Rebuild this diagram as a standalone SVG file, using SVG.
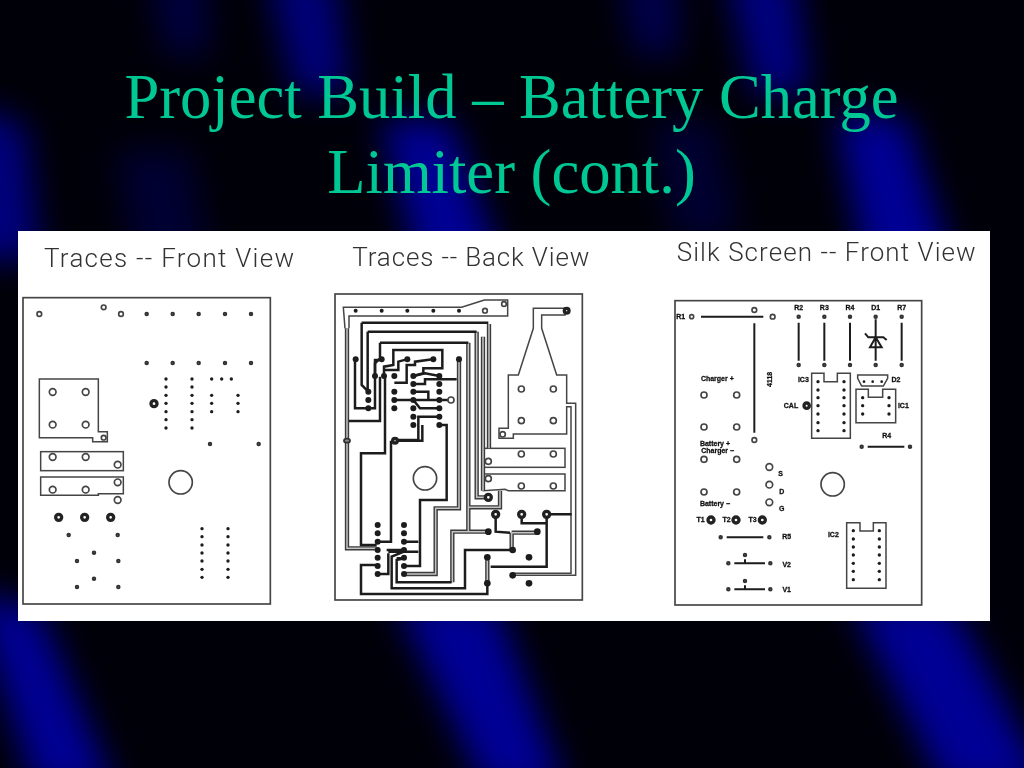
<svg xmlns="http://www.w3.org/2000/svg" width="1024" height="768" viewBox="0 0 1024 768">
<defs>
<filter id="b1" x="-80%" y="-60%" width="260%" height="220%"><feGaussianBlur stdDeviation="17"/></filter>
<filter id="soft" x="-2%" y="-2%" width="104%" height="104%"><feGaussianBlur stdDeviation="0.9"/></filter>
</defs>
<style>
.title{font-family:"Liberation Serif","Times New Roman",serif;font-size:62.6px;fill:#00c895;text-anchor:middle}
.cap{font-family:Roboto,"Liberation Sans",Arial,sans-serif;font-weight:300;font-size:78px;fill:#333}
.lb{font-family:"Liberation Sans",Arial,sans-serif;font-size:21px;font-weight:bold;fill:#111;stroke:#111;stroke-width:.8;text-anchor:middle}
.board{fill:none;stroke:#444;stroke-width:5}
.ol{fill:none;stroke:#444;stroke-width:4.5}
.ring{fill:#fff;stroke:#444;stroke-width:5}
.thick{fill:#fff;stroke:#222;stroke-width:10}
.pad{fill:#888;stroke:#333;stroke-width:5.5}
.dot{fill:#1c1c1c}
.t{fill:none;stroke:#1c1c1c;stroke-width:7.5;stroke-linejoin:miter}
.d{fill:none;stroke:#3a3a3a;stroke-width:13}
.di{fill:none;stroke:#c4c4c4;stroke-width:4.5}
.sl{fill:none;stroke:#1c1c1c;stroke-width:6}
.blue{fill:#000094;filter:url(#b1)}
</style>
<rect width="1024" height="768" fill="#000008"/>
<g id="background">
<polygon class="blue" points="150,-30 205,-30 210,55 165,55" opacity=".4"/>
<polygon class="blue" points="265,-30 335,-30 350,95 295,95" opacity=".8"/>
<polygon class="blue" points="620,-30 675,-30 680,55 635,55" opacity=".5"/>
<polygon class="blue" points="725,-30 795,-30 810,95 755,95" opacity=".85"/>
<polygon class="blue" points="-30,105 25,125 40,260 -30,260" opacity=".85"/>
<polygon class="blue" points="380,120 450,120 510,290 425,290"/>
<polygon class="blue" points="835,115 905,115 960,290 870,290"/>
<polygon class="blue" points="395,600 495,600 565,790 485,790"/>
<polygon class="blue" points="850,600 950,600 1050,790 945,790"/>
<polygon class="blue" points="-30,590 40,610 115,790 35,790"/>
<polygon class="blue" points="115,150 190,150 215,300 140,300" opacity=".3"/>
<polygon class="blue" points="650,120 715,120 740,240 675,240" opacity=".3"/>
</g>
<text class="title" x="511.5" y="118">Project Build – Battery Charge</text>
<text class="title" x="511.5" y="193">Limiter (cont.)</text>
<rect id="panel" x="18" y="231" width="972" height="390" fill="#fff"/>

<g id="front-view" transform="translate(18 230) scale(.33333)" filter="url(#soft)">
<text class="cap" x="78" y="112" textLength="750">Traces -- Front View</text>
<rect class="board" x="15" y="203" width="742" height="919"/>
<polygon class="ol" points="64,447 241,447 241,605 268,605 268,635 224,635 224,623 64,623"/>
<rect class="ol" x="68" y="665" width="248" height="57"/>
<polygon class="ol" points="68,741 316,741 316,791 241,791 241,796 68,796"/>
<g class="ring">
<circle cx="64" cy="252" r="7"/><circle cx="257" cy="232" r="7"/><circle cx="309" cy="252" r="7"/>
<circle cx="257" cy="623" r="7"/>
<circle cx="104" cy="486" r="10"/><circle cx="203" cy="486" r="10"/><circle cx="104" cy="584" r="10"/><circle cx="203" cy="584" r="10"/>
<circle cx="104" cy="681" r="10"/><circle cx="203" cy="681" r="10"/><circle cx="299" cy="704" r="10"/>
<circle cx="299" cy="757" r="10"/><circle cx="104" cy="779" r="10"/><circle cx="203" cy="779" r="10"/><circle cx="299" cy="810" r="10"/>
<circle cx="488" cy="757" r="35"/>
</g>
<g class="thick"><circle cx="408" cy="521" r="9"/><circle cx="122" cy="862" r="9"/><circle cx="200" cy="862" r="9"/><circle cx="278" cy="862" r="9"/></g>
<g class="pad">
<circle cx="386" cy="252" r="4"/><circle cx="464" cy="252" r="4"/><circle cx="542" cy="252" r="4"/><circle cx="621" cy="252" r="4"/><circle cx="699" cy="252" r="4"/>
<circle cx="386" cy="399" r="4"/><circle cx="464" cy="399" r="4"/><circle cx="542" cy="399" r="4"/><circle cx="621" cy="399" r="4"/><circle cx="699" cy="399" r="4"/>
<circle cx="576" cy="642" r="4"/><circle cx="722" cy="642" r="4"/>
<circle cx="152" cy="915" r="4"/><circle cx="299" cy="915" r="4"/><circle cx="228" cy="968" r="4"/><circle cx="177" cy="993" r="4"/><circle cx="301" cy="993" r="4"/><circle cx="228" cy="1046" r="4"/><circle cx="177" cy="1071" r="4"/><circle cx="301" cy="1071" r="4"/>
</g>
<g class="dot">
<circle cx="444" cy="447" r="5"/><circle cx="444" cy="471" r="5"/><circle cx="444" cy="496" r="5"/><circle cx="444" cy="520" r="5"/><circle cx="444" cy="545" r="5"/><circle cx="444" cy="569" r="5"/><circle cx="444" cy="594" r="5"/>
<circle cx="522" cy="447" r="5"/><circle cx="522" cy="471" r="5"/><circle cx="522" cy="496" r="5"/><circle cx="522" cy="520" r="5"/><circle cx="522" cy="545" r="5"/><circle cx="522" cy="569" r="5"/><circle cx="522" cy="594" r="5"/>
<circle cx="581" cy="447" r="5"/><circle cx="611" cy="447" r="5"/><circle cx="640" cy="447" r="5"/>
<circle cx="581" cy="496" r="5"/><circle cx="581" cy="520" r="5"/><circle cx="581" cy="545" r="5"/><circle cx="660" cy="496" r="5"/><circle cx="660" cy="520" r="5"/><circle cx="660" cy="545" r="5"/>
<circle cx="552" cy="896" r="5"/><circle cx="552" cy="920" r="5"/><circle cx="552" cy="945" r="5"/><circle cx="552" cy="969" r="5"/><circle cx="552" cy="993" r="5"/><circle cx="552" cy="1018" r="5"/><circle cx="552" cy="1042" r="5"/>
<circle cx="630" cy="896" r="5"/><circle cx="630" cy="920" r="5"/><circle cx="630" cy="945" r="5"/><circle cx="630" cy="969" r="5"/><circle cx="630" cy="993" r="5"/><circle cx="630" cy="1018" r="5"/><circle cx="630" cy="1042" r="5"/>
</g>
</g>

<g id="back-view" transform="translate(325 230) scale(.33333)" filter="url(#soft)">
<text class="cap" x="82" y="108" textLength="711">Traces -- Back View</text>
<rect class="board" x="30" y="192" width="742" height="918"/>
<path class="ol" d="M60 295L55 232H410L478 210H548V258H72V295"/>
<polygon class="ol" points="625,235 720,235 720,255 650,255 650,295 695,435 725,435 725,520 752,520 752,1036 563,1036 563,1030 738,1030 738,530 725,530 725,612 565,612 565,625 522,625 522,595 550,595 550,435 580,435 625,295"/>
<rect class="ol" x="475" y="655" width="245" height="57"/>
<polygon class="ol" points="475,732 720,732 720,782 550,782 540,778 475,782"/>
<g id="outlined-traces">
<path class="d" d="M492 282V655M455 305V802H490M474 320V782M430 338V832H525V782M430 832V905H382V1057M382 905H490M402 380V835H332V1032H237M66 295V955H155M487 982V1060M560 908H637M560 908V960"/>
<path class="di" d="M492 282V655M455 305V802H490M474 320V782M430 338V832H525V782M430 832V905H382V1057M382 905H490M402 380V835H332V1032H237M66 295V955H155M487 982V1060M560 908H637M560 908V960"/>
</g>
<g id="traces">
<path class="t" d="M110 278H490M110 278V465L130 485M128 305H455M128 305V485M165 338H430M165 338V385L150 400V435"/>
<path class="t" d="M90 388V535H130M130 535H150V390H167M177 438V410L205 405V360H352V415H295V430L265 438"/>
<path class="t" d="M180 420H220V395L245 388M208 458H245V405H270V395L323 388M265 462H300V448H395M300 448H343M265 438L300 430L343 438"/>
<path class="t" d="M208 510H378M265 485H310V510M265 510L285 535H343M292 560H280V630H213M280 560H343M343 585H365V810H285V1008H237"/>
<path class="t" d="M72 573H165V440M180 440V670H108V945H155M198 632V935H160M213 632H292V585"/>
<path class="t" d="M237 935H280M190 965H280M185 960H237M215 985H237L215 990V1057H380M563 960H420V1075H200V980L237 965"/>
<path class="t" d="M487 1060V1092H108V1005H158M158 1032H190V970M497 1010H665V853M590 853V880H665M512 853V905L555 908M665 853H740"/>
</g>
<circle class="ring" cx="300" cy="745" r="35"/>
<g class="ring">
<circle cx="589" cy="477" r="9"/><circle cx="685" cy="477" r="9"/><circle cx="589" cy="572" r="9"/><circle cx="685" cy="572" r="9"/>
<circle cx="533" cy="613" r="8"/><circle cx="537" cy="222" r="7"/><circle cx="480" cy="242" r="7"/>
<circle cx="589" cy="672" r="9"/><circle cx="685" cy="672" r="9"/><circle cx="490" cy="694" r="9"/>
<circle cx="490" cy="746" r="9"/><circle cx="589" cy="768" r="9"/><circle cx="685" cy="768" r="9"/>
<circle cx="378" cy="510" r="9"/>
</g>
<g class="thick">
<circle cx="725" cy="242" r="7"/><circle cx="490" cy="802" r="9"/>
<circle cx="512" cy="853" r="9"/><circle cx="590" cy="853" r="9"/><circle cx="665" cy="853" r="9"/>
<circle cx="210" cy="632" r="7"/>
</g>
<g class="dot">
<circle cx="92" cy="388" r="9"/><circle cx="170" cy="388" r="9"/><circle cx="247" cy="388" r="9"/><circle cx="325" cy="388" r="9"/><circle cx="402" cy="388" r="9"/>
<circle cx="92" cy="242" r="6"/><circle cx="170" cy="242" r="6"/><circle cx="247" cy="242" r="6"/><circle cx="325" cy="242" r="6"/><circle cx="402" cy="242" r="6"/>
<circle cx="150" cy="438" r="9"/><circle cx="177" cy="438" r="9"/><circle cx="208" cy="438" r="9"/>
<circle cx="130" cy="485" r="9"/><circle cx="130" cy="510" r="9"/><circle cx="130" cy="535" r="9"/>
<circle cx="208" cy="485" r="9"/><circle cx="208" cy="510" r="9"/><circle cx="208" cy="535" r="9"/>
<circle cx="265" cy="438" r="9"/><circle cx="265" cy="462" r="9"/><circle cx="265" cy="485" r="9"/><circle cx="265" cy="510" r="9"/><circle cx="265" cy="535" r="9"/><circle cx="265" cy="560" r="9"/><circle cx="265" cy="585" r="9"/>
<circle cx="343" cy="438" r="9"/><circle cx="343" cy="462" r="9"/><circle cx="343" cy="485" r="9"/><circle cx="343" cy="510" r="9"/><circle cx="343" cy="535" r="9"/><circle cx="343" cy="560" r="9"/><circle cx="343" cy="585" r="9"/>
<circle cx="158" cy="885" r="9"/><circle cx="158" cy="910" r="9"/><circle cx="158" cy="935" r="9"/><circle cx="158" cy="960" r="9"/><circle cx="158" cy="983" r="9"/><circle cx="158" cy="1008" r="9"/><circle cx="158" cy="1032" r="9"/>
<circle cx="237" cy="885" r="9"/><circle cx="237" cy="910" r="9"/><circle cx="237" cy="935" r="9"/><circle cx="237" cy="960" r="9"/><circle cx="237" cy="983" r="9"/><circle cx="237" cy="1008" r="9"/><circle cx="237" cy="1032" r="9"/>
<circle cx="490" cy="905" r="10"/><circle cx="637" cy="905" r="10"/><circle cx="563" cy="960" r="10"/><circle cx="487" cy="982" r="10"/><circle cx="612" cy="982" r="10"/><circle cx="487" cy="1060" r="10"/><circle cx="612" cy="1060" r="10"/><circle cx="563" cy="1036" r="10"/>
</g>
<ellipse class="pad" cx="66" cy="632" rx="9" ry="6"/>
</g>

<g id="silk-view" transform="translate(665 230) scale(.33333)" filter="url(#soft)">
<text class="cap" x="35" y="92" textLength="897">Silk Screen -- Front View</text>
<rect class="board" x="30" y="212" width="740" height="913"/>
<path class="sl" d="M108 260H295M268 280V608M401 278V392M478 278V392M555 278V392M710 278V392M632 268V392M632 322L615 352H650ZM600 310L610 322H655L665 330M608 650H718"/>
<path class="ol" d="M440 430H477V455H517V430H556V625H440ZM578 435H668V445L655 468H590L578 445ZM573 478H610V502H653V478H692V578H573ZM545 878H585V903H625V878H663V1075H545Z"/>
<path class="sl" d="M185 922H295M208 1000H300M208 1078H300M240 988V1000M240 1066V1078"/>
<g class="ring">
<circle cx="80" cy="260" r="6"/><circle cx="268" cy="240" r="7"/><circle cx="323" cy="260" r="7"/><circle cx="268" cy="630" r="7"/>
<circle cx="117" cy="495" r="9"/><circle cx="215" cy="495" r="9"/><circle cx="117" cy="591" r="9"/><circle cx="215" cy="591" r="9"/>
<circle cx="117" cy="688" r="9"/><circle cx="215" cy="688" r="9"/><circle cx="117" cy="786" r="9"/><circle cx="215" cy="786" r="9"/>
<circle cx="313" cy="711" r="10"/><circle cx="313" cy="764" r="10"/><circle cx="313" cy="817" r="10"/>
<circle cx="503" cy="763" r="35"/>
</g>
<g class="thick"><circle cx="425" cy="527" r="8"/><circle cx="138" cy="870" r="9"/><circle cx="213" cy="870" r="9"/><circle cx="292" cy="870" r="9"/></g>
<g class="pad">
<circle cx="401" cy="260" r="4"/><circle cx="478" cy="260" r="4"/><circle cx="555" cy="260" r="4"/><circle cx="632" cy="260" r="4"/><circle cx="710" cy="260" r="4"/>
<circle cx="401" cy="405" r="4"/><circle cx="478" cy="405" r="4"/><circle cx="555" cy="405" r="4"/><circle cx="632" cy="405" r="4"/><circle cx="710" cy="405" r="4"/>
<circle cx="590" cy="650" r="4"/><circle cx="735" cy="650" r="4"/>
<circle cx="167" cy="922" r="4"/><circle cx="313" cy="922" r="4"/>
<circle cx="190" cy="1000" r="4"/><circle cx="316" cy="1000" r="4"/><circle cx="240" cy="975" r="4"/>
<circle cx="190" cy="1078" r="4"/><circle cx="316" cy="1078" r="4"/><circle cx="240" cy="1053" r="4"/>
</g>
<g class="dot">
<circle cx="459" cy="455" r="5"/><circle cx="459" cy="480" r="5"/><circle cx="459" cy="503" r="5"/><circle cx="459" cy="527" r="5"/><circle cx="459" cy="552" r="5"/><circle cx="459" cy="578" r="5"/><circle cx="459" cy="602" r="5"/>
<circle cx="537" cy="455" r="5"/><circle cx="537" cy="480" r="5"/><circle cx="537" cy="503" r="5"/><circle cx="537" cy="527" r="5"/><circle cx="537" cy="552" r="5"/><circle cx="537" cy="578" r="5"/><circle cx="537" cy="602" r="5"/>
<circle cx="597" cy="455" r="4"/><circle cx="623" cy="455" r="4"/><circle cx="650" cy="455" r="4"/>
<circle cx="593" cy="503" r="5"/><circle cx="593" cy="527" r="5"/><circle cx="593" cy="552" r="5"/><circle cx="672" cy="503" r="5"/><circle cx="672" cy="527" r="5"/><circle cx="672" cy="552" r="5"/>
<circle cx="565" cy="902" r="5"/><circle cx="565" cy="927" r="5"/><circle cx="565" cy="951" r="5"/><circle cx="565" cy="975" r="5"/><circle cx="565" cy="1000" r="5"/><circle cx="565" cy="1024" r="5"/><circle cx="565" cy="1049" r="5"/>
<circle cx="643" cy="902" r="5"/><circle cx="643" cy="927" r="5"/><circle cx="643" cy="951" r="5"/><circle cx="643" cy="975" r="5"/><circle cx="643" cy="1000" r="5"/><circle cx="643" cy="1024" r="5"/><circle cx="643" cy="1049" r="5"/>
</g>
<g class="lb">
<text x="47" y="267">R1</text><text x="401" y="241">R2</text><text x="478" y="241">R3</text><text x="555" y="241">R4</text><text x="632" y="241">D1</text><text x="710" y="241">R7</text>
<text x="415" y="457">IC3</text><text x="693" y="457">D2</text><text x="378" y="534">CAL</text><text x="715" y="534">IC1</text><text x="665" y="625">R4</text>
<text x="157" y="454">Charger +</text>
<text x="150" y="649">Battery +</text><text x="158" y="669">Charger −</text><text x="150" y="827">Battery −</text>
<text x="347" y="738">S</text><text x="350" y="791">D</text><text x="350" y="844">G</text>
<text x="107" y="877">T1</text><text x="185" y="877">T2</text><text x="263" y="877">T3</text>
<text x="365" y="928">R5</text><text x="365" y="1010">V2</text><text x="365" y="1085">V1</text><text x="505" y="922">IC2</text>
<text transform="translate(321 448) rotate(-90)">4118</text>
</g>
</g>
</svg>
